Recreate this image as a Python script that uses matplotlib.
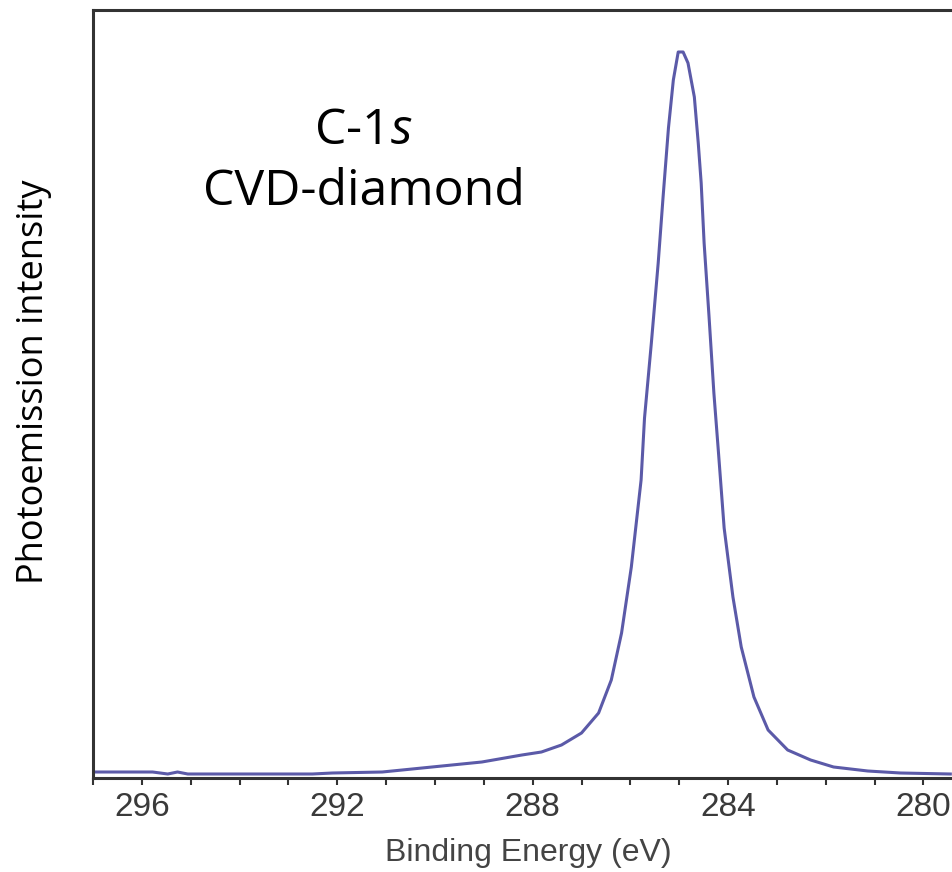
import matplotlib
matplotlib.use("Agg")
import matplotlib.pyplot as plt
from matplotlib.ticker import MultipleLocator

# Binding energy (eV) and photoemission intensity (arb. units)
energy = [296.94, 295.78, 295.47, 295.27, 295.06, 293.73, 292.51, 292.10, 291.08,
          290.67, 290.06, 289.04, 288.22, 287.82, 287.41, 287.00, 286.65, 286.39,
          286.18, 285.98, 285.78, 285.71, 285.57, 285.43, 285.33, 285.22, 285.12,
          285.02, 284.92, 284.82, 284.69, 284.61, 284.55, 284.49, 284.39, 284.29,
          284.20, 284.08, 283.90, 283.73, 283.47, 283.18, 282.78, 282.31, 281.84,
          281.14, 280.47, 279.45]
intensity = [6, 6, 4, 6, 4, 4, 4, 5, 6,
             8, 11, 16, 23, 26, 33, 45, 65, 98,
             145, 211, 298, 360, 435, 515, 581, 650, 698,
             726, 726, 715, 681, 635, 595, 535, 462, 385,
             328, 250, 181, 131, 81, 48, 28, 18, 11,
             7, 5, 4]
xticks = [296, 292, 288, 284, 280]

plt.rcParams['mathtext.fontset'] = 'custom'
plt.rcParams['mathtext.rm'] = 'Open Sans'
plt.rcParams['mathtext.it'] = 'Open Sans:italic'

W, H = 953, 872
fig = plt.figure(figsize=(W / 100, H / 100), dpi=100)
ax = fig.add_axes([93 / W, 1 - 778 / H, 1 - 93 / W + 0.01, (778 - 10) / H])

ax.plot(energy, intensity, color='#5b5aa8', lw=2.2, solid_joinstyle='round')
ax.set_xlim(297.0, 279.2)
ax.set_ylim(0, 768)

ax.set_xticks(xticks)
ax.set_xticklabels([str(t) for t in xticks], family='Liberation Sans', fontsize=24, color='#3a3a3a')
ax.xaxis.set_minor_locator(MultipleLocator(1))
ax.tick_params(axis='x', which='both', direction='out', length=5, width=1.5, color='#333333', pad=5)
ax.set_yticks([])

for s in ['left', 'top', 'bottom']:
    ax.spines[s].set_linewidth(2.2)
    ax.spines[s].set_color('#333333')
ax.spines['right'].set_visible(False)

fig.text(528 / W, 1 - 853 / H, 'Binding Energy (eV)', family='Liberation Sans', fontsize=23,
         color='#444444', ha='center', va='center')
fig.text(34 / W, 1 - 382 / H, 'Photoemission intensity', family='Open Sans', fontsize=26,
         color='black', ha='center', va='center', rotation=90)

fig.text(363 / W, 1 - 131 / H, r'C-$\mathit{1s}$', family='Open Sans', fontsize=36,
         color='black', ha='center', va='center')
fig.text(364 / W, 1 - 192 / H, 'CVD-diamond', family='Open Sans', fontsize=36,
         color='black', ha='center', va='center')

fig.savefig('out.png', dpi=100)
